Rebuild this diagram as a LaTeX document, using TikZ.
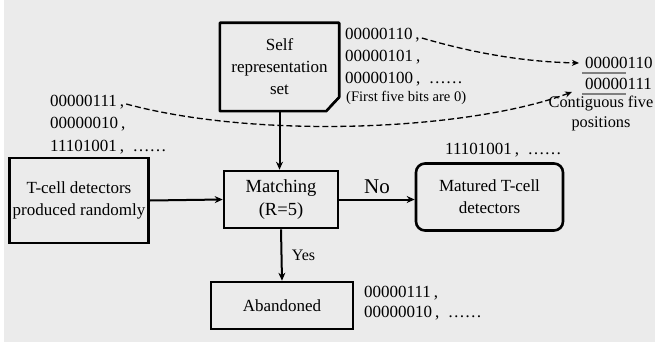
\documentclass[tikz,border=0pt]{standalone}
\usepackage{fontspec}
\setmainfont{Liberation Serif}
\usetikzlibrary{positioning, arrows.meta}

\begin{document}
\begin{tikzpicture}[x=1pt, y=-1pt,
		box/.style={draw, line width=2.6pt, align=center, font=\fontsize{17}{22}\selectfont},
		flow/.style={-{Stealth[length=8pt, width=7pt]}, line width=2pt},
		code/.style={anchor=west, inner sep=0pt, font=\fontsize{17}{22}\selectfont},
		link/.style={-{Stealth[length=7pt, width=6pt]}, dash pattern=on 6pt off 3pt, line width=1.3pt}]
		%Background
		\useasboundingbox (0,0) rectangle (655,342);
		\fill[white] (0,0) rectangle (655,342);
		\fill[black!8] (4,0) rectangle (655,342);
		
		%Self block with folded corner
		\node[minimum width=119pt, minimum height=88pt, align=center,
		      font=\fontsize{17}{22}\selectfont] (self) at (279.5,67){Self\\representation\\set};
		\draw[line width=2.6pt, line join=round] (self.north west) -- (self.north east)
		      -- ([yshift=14pt]self.south east) -- ([xshift=-13pt]self.south east) -- (self.south west) -- cycle;
		\draw[line width=1.8pt, fill=white] ([xshift=-13pt]self.south east) -- ([xshift=-7pt,yshift=7pt]self.south east)
		      -- ([yshift=14pt]self.south east);
		
		%T-cell block
		\node[box, minimum width=136pt, minimum height=85pt] (tcell) at (79,200.5){T-cell detectors\\produced randomly};
		
		%Matching block
		\node[box, minimum width=114pt, minimum height=57pt,
		      font=\fontsize{18.5}{23}\selectfont] (match) at (281,199.5){Matching\\(R=5)};
		
		%Matured block
		\node[box, rounded corners=9pt, minimum width=147pt, minimum height=67pt] (matured) at (489.5,197){Matured T-cell\\detectors};
		
		%Abandoned block
		\node[box, minimum width=142pt, minimum height=47pt] (aband) at (282,305.5){Abandoned};
		
		\draw[flow] (self.south) -- (self.south |- match.north);
		\draw[flow] (tcell.east) -- (match.west);
		\draw[flow] (match.east) -- (matured.west |- match.east) node[midway, above=1pt, font=\fontsize{21}{24}\selectfont](no){No};
		\draw[flow] (match.south) -- (aband.north) node[midway, right=6pt, font=\fontsize{16}{20}\selectfont](yes){Yes};
		
		%Bit strings
		\node[code] (s1) at (345,35){00000110\,,};
		\node[code] (s2) at (345,57){00000101\,,};
		\node[code] (s3) at (345,79){00000100\,,\ \ ……};
		\node[code, font=\fontsize{14.6}{18}\selectfont] (s4) at (346,98){(First five bits are 0)};
		
		\node[code] (l1) at (50,102){00000111\,,};
		\node[code] (l2) at (50,124){00000010\,,};
		\node[code] (l3) at (50,147){11101001\,,\ \ ……};
		
		\node[code] (m1) at (445,150){11101001\,,\ \ ……};
		
		\node[code] (a1) at (364,293){00000111\,,};
		\node[code] (a2) at (364,313){00000010\,,\ \ ……};
		
		%Contiguous positions
		\node[code] (r1) at (585,63){00000110};
		\node[code] (r2) at (585,84){00000111};
		\draw[black!50, line width=1.2pt] (582,73) -- (626,73);
		\draw[black!50, line width=1.2pt] (582,94) -- (626,94);
		\node[inner sep=0pt, align=center, font=\fontsize{16.3}{20}\selectfont] (cont) at (601,113){Contiguous five\\positions};
		
		\draw[link] ([xshift=2pt,yshift=-3pt]s1.east) .. controls (480,55) and (530,62) .. ([xshift=-6pt]r1.west);
		\draw[link] ([xshift=2pt,yshift=-2pt]l1.east) .. controls (260,140) and (470,130) .. (572,92);
	\end{tikzpicture}
\end{document}
